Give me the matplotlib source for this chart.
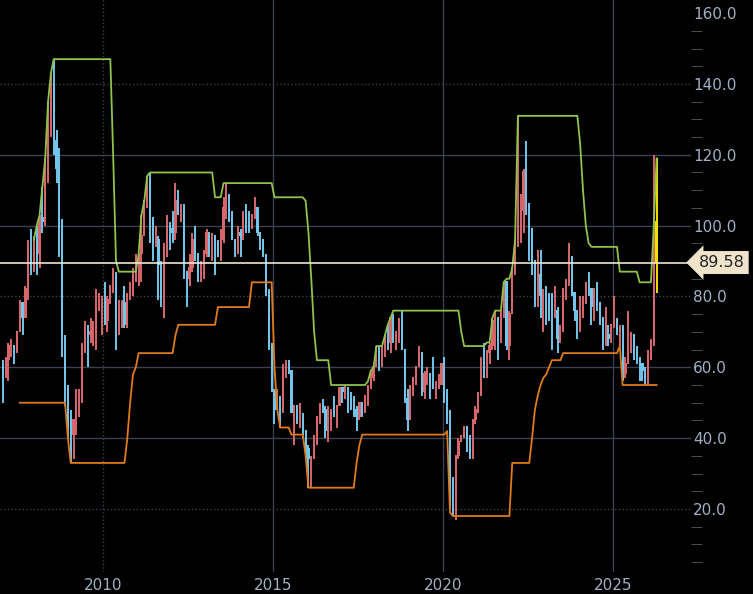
import matplotlib.pyplot as plt
import numpy as np

# monthly candles, Jan 2007 .. Apr 2026
closes = [58, 62, 66, 66, 64, 70, 78, 74, 82, 94, 89, 96,
          92, 102, 101, 113, 127, 140, 124, 116, 100, 68, 54, 45,
          41, 45, 49, 51, 66, 70, 69, 70, 70, 77, 77, 79,
          73, 79, 83, 86, 74, 75, 78, 72, 80, 81, 84, 91,
          92, 97, 107, 113, 102, 95, 96, 89, 79, 93, 100, 99,
          98, 107, 103, 105, 87, 85, 88, 96, 92, 86, 89, 92,
          98, 92, 97, 93, 92, 96, 105, 108, 102, 96, 93, 98,
          97, 103, 101, 100, 103, 105, 98, 96, 91, 81, 66, 53,
          48, 50, 48, 59, 60, 59, 47, 49, 45, 46, 42, 37,
          34, 34, 38, 46, 49, 48, 42, 45, 48, 47, 49, 54,
          53, 54, 51, 49, 48, 46, 50, 47, 52, 54, 57, 60,
          64, 62, 65, 68, 67, 74, 68, 70, 73, 65, 51, 45,
          54, 57, 60, 64, 53, 58, 58, 55, 54, 54, 55, 61,
          52, 45, 20, 19, 35, 39, 40, 43, 40, 35, 45, 48,
          52, 62, 59, 64, 66, 73, 74, 69, 75, 84, 66, 75,
          88, 96, 100, 104, 115, 106, 99, 90, 79, 86, 80, 80,
          79, 77, 76, 76, 68, 70, 82, 84, 91, 81, 76, 72,
          76, 78, 83, 82, 77, 82, 78, 74, 68, 69, 68, 72,
          73, 70, 71, 58, 61, 65, 69, 64, 62, 61, 59, 57,
          62, 67, 101, 89.58]
highs = [62, 63, 67, 68, 66, 70, 79, 78, 83, 96, 99, 97,
         100, 103, 111, 119, 135, 143, 147, 127, 122, 102, 69, 55,
         48, 45, 54, 54, 67, 73, 72, 74, 73, 82, 81, 80,
         84, 80, 83, 88, 87, 79, 79, 83, 81, 84, 88, 92,
         92, 103, 107, 114, 115, 102, 100, 97, 90, 95, 103, 101,
         104, 112, 110, 106, 106, 87, 92, 98, 100, 92, 90, 93,
         99, 98, 98, 97, 96, 99, 108, 112, 109, 104, 96, 100,
         99, 104, 106, 104, 103, 108, 105, 98, 96, 92, 82, 67,
         54, 54, 52, 61, 62, 62, 59, 49, 49, 50, 47, 42,
         38, 35, 41, 46, 50, 51, 49, 49, 48, 52, 49, 54,
         54, 55, 54, 53, 52, 49, 50, 50, 52, 55, 59, 60,
         66, 66, 66, 69, 72, 74, 75, 70, 74, 76, 63, 54,
         55, 57, 60, 66, 63, 59, 60, 57, 63, 56, 58, 61,
         63, 54, 48, 29, 35, 40, 41, 43, 43, 41, 45, 49,
         53, 63, 67, 65, 67, 74, 76, 74, 76, 84, 84, 76,
         88, 96, 131, 109, 116, 124, 106, 98, 90, 93, 93, 82,
         83, 81, 81, 83, 77, 72, 82, 85, 95, 90, 81, 76,
         80, 80, 84, 87, 79, 82, 84, 78, 72, 77, 72, 72,
         80, 74, 72, 72, 63, 76, 70, 69, 66, 63, 61, 60,
         65, 68, 120, 119]
lows = [50, 57, 56, 63, 61, 64, 70, 69, 74, 79, 86, 87,
        86, 88, 98, 100, 112, 125, 120, 112, 91, 63, 49, 40,
        33, 34, 41, 46, 50, 64, 60, 67, 66, 65, 76, 69,
        72, 70, 78, 81, 65, 69, 71, 71, 71, 79, 80, 84,
        83, 84, 97, 105, 95, 90, 94, 79, 77, 74, 91, 93,
        95, 96, 103, 101, 85, 77, 83, 87, 90, 84, 84, 85,
        91, 91, 90, 86, 91, 90, 95, 102, 101, 96, 91, 92,
        91, 96, 98, 98, 99, 102, 97, 93, 91, 80, 65, 53,
        44, 48, 43, 47, 57, 58, 47, 38, 44, 43, 40, 34,
        26, 26, 34, 38, 44, 47, 40, 39, 42, 46, 43, 49,
        50, 51, 47, 48, 46, 42, 45, 46, 47, 49, 55, 56,
        60, 59, 60, 63, 65, 64, 67, 65, 67, 65, 50, 42,
        45, 52, 55, 60, 52, 51, 55, 51, 54, 51, 55, 55,
        50, 44, 20, 18, 17, 34, 39, 40, 36, 34, 34, 44,
        47, 52, 57, 57, 61, 65, 65, 62, 67, 74, 65, 62,
        75, 86, 94, 95, 98, 103, 90, 86, 77, 77, 74, 70,
        72, 73, 65, 74, 64, 67, 70, 79, 83, 80, 73, 68,
        70, 74, 78, 80, 72, 73, 76, 72, 65, 66, 66, 67,
        71, 69, 66, 56, 57, 63, 64, 62, 61, 56, 56, 55,
        55, 62, 66, 81]
first_open = 61

# channel lines as (level, number of months) steps
upper_levels = [np.nan, 96, 100, 103, 111, 119, 135, 143, 147, 120, 90, 87,
                92, 103, 107, 114, 115, 108, 112, 108, 107, 98, 85, 70, 62, 55,
                56, 59, 60, 66, 66, 66, 69, 72, 74, 76, 70, 66,
                67, 67, 74, 76, 76, 76, 84, 85, 85, 88, 96, 131,
                123, 110, 100, 95, 94, 87, 84, 100, 119]
upper_counts = [11, 1, 1, 1, 1, 1, 1, 1, 21, 1, 1, 7,
                1, 1, 1, 1, 23, 3, 18, 11, 1, 1, 1, 1, 5, 13,
                1, 1, 1, 1, 1, 1, 1, 1, 1, 24, 1, 8,
                1, 1, 1, 1, 1, 1, 1, 1, 1, 1, 1, 22,
                1, 1, 1, 1, 10, 7, 5, 1, 1]
lower_levels = [np.nan, 50, 40, 33, 40, 50, 58, 60, 64, 69, 72, 77, 84,
                60, 48, 43, 41, 35, 26, 33, 38, 41, 42, 19, 18,
                33, 33, 40, 48, 52, 55, 57, 58, 60, 62, 64, 66, 55]
lower_counts = [6, 17, 1, 20, 1, 1, 1, 1, 13, 1, 14, 12, 8,
                1, 1, 4, 5, 1, 17, 1, 1, 30, 1, 1, 21,
                1, 6, 1, 1, 1, 1, 1, 1, 1, 4, 20, 1, 13]

n = len(closes)
t = 2007 + (np.arange(n) + 0.5) / 12
opens = np.r_[first_open, closes[:-1]]
c = np.array(closes)
upper = np.repeat(upper_levels, upper_counts)
lower = np.repeat(lower_levels, lower_counts)

fig = plt.figure(figsize=(7.53, 5.94), dpi=100, facecolor="black")
ax = fig.add_axes([0, 0.037, 0.917, 0.963], facecolor="black")

grid_c = "#3b4150"
for y, ls in [(140, ":"), (120, "-"), (100, "-"), (80, ":"), (60, "-"), (40, "-"), (20, ":")]:
    ax.axhline(y, color=grid_c, lw=1, ls=ls, zorder=0)
for x, ls in [(2010, ":"), (2015, "-"), (2020, "-"), (2025, "-")]:
    ax.axvline(x, color=grid_c, lw=1, ls=ls, zorder=0)

up = c >= opens
cols = np.where(up, "#d8676b", "#72c6ec")
cols[-1] = "#f0e000"
ax.vlines(t, lows, highs, colors=cols, lw=1.4, zorder=2)
ax.bar(t, np.abs(c - opens) + 0.3, bottom=np.minimum(c, opens), width=0.065,
       color=cols, zorder=3)

ax.plot(t, upper, color="#8fc34a", lw=1.3, zorder=4)
ax.plot(t, lower, color="#e07b1a", lw=1.3, zorder=4)

last = closes[-1]
ax.axhline(last, color="#f0e6d2", lw=1.2, zorder=5)
ax.annotate(f"{last:.2f}", xy=(1.0, last), xycoords=("axes fraction", "data"),
            xytext=(6, 0), textcoords="offset points", va="center", ha="left",
            fontsize=11.5, color="#222222", annotation_clip=False,
            bbox=dict(boxstyle="larrow,pad=0.25", fc="#efe3cc", ec="none"))

ax.set_xlim(2006.96, 2027.29)
ax.set_ylim(2.2, 163.7)
ax.yaxis.tick_right()
ax.set_yticks([20, 40, 60, 80, 100, 120, 140, 160])
ax.set_yticklabels([f"{v:.1f}" for v in [20, 40, 60, 80, 100, 120, 140, 160]])
ax.set_yticks(np.arange(5, 165, 5), minor=True)
ax.set_xticks([2010, 2015, 2020, 2025])
ax.tick_params(axis="y", which="both", colors="#9fb0c6", labelsize=11,
               direction="out", length=10, pad=-1, labelcolor="#9fb0c6")
ax.tick_params(axis="y", which="minor", length=8, color="#555a66")
ax.tick_params(axis="y", which="major", length=0, pad=2)
ax.tick_params(axis="x", colors="#9fb0c6", labelsize=11, length=0, pad=4)
for s in ax.spines.values():
    s.set_visible(False)

plt.savefig("out.png", dpi=100, facecolor="black")
